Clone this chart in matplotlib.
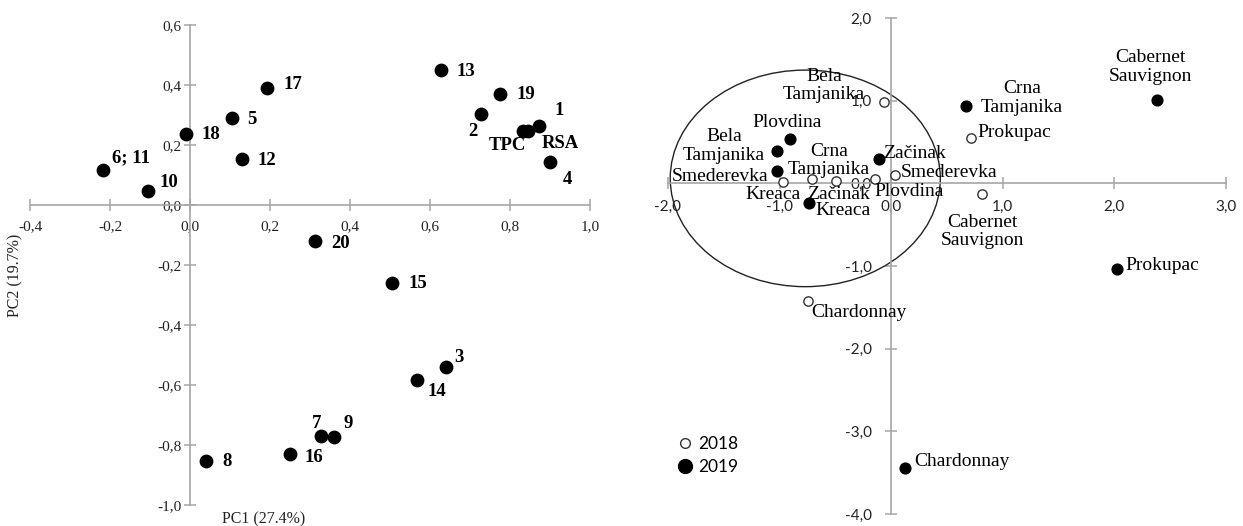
import matplotlib
matplotlib.use("Agg")
import matplotlib.pyplot as plt
from matplotlib.lines import Line2D
from matplotlib.patches import Ellipse

# ---------------- data: left panel (loadings) ----------------
left_labels = ["13", "19", "2", "1", "TPC", "RSA", "4", "17", "5", "18", "12",
               "6; 11", "10", "20", "15", "3", "14", "7", "9", "16", "8"]
left_pc1 = [0.627, 0.775, 0.727, 0.872, 0.832, 0.845, 0.900, 0.193, 0.104, -0.010, 0.129,
            -0.218, -0.104, 0.313, 0.506, 0.641, 0.567, 0.328, 0.361, 0.251, 0.041]
left_pc2 = [0.449, 0.371, 0.302, 0.264, 0.246, 0.246, 0.142, 0.389, 0.290, 0.237, 0.154,
            0.116, 0.047, -0.120, -0.259, -0.539, -0.583, -0.770, -0.772, -0.831, -0.853]
left_xticks = [-0.4, -0.2, 0.0, 0.2, 0.4, 0.6, 0.8, 1.0]
left_yticks = [-1.0, -0.8, -0.6, -0.4, -0.2, 0.0, 0.2, 0.4, 0.6]

# ---------------- data: right panel (scores) ----------------
names_2019 = ["Cabernet\nSauvignon", "Crna\nTamjanika", "Plovdina", "Bela\nTamjanika",
              "Smederevka", "Začinak", "Kreaca", "Prokupac", "Chardonnay"]
x_2019 = [2.38, 0.67, -0.906, -1.023, -1.023, -0.107, -0.738, 2.02, 0.128]
y_2019 = [1.008, 0.935, 0.536, 0.391, 0.149, 0.294, -0.242, -1.04, -3.44]

names_2018 = ["Bela\nTamjanika", "Prokupac", "Smederevka", "Cabernet\nSauvignon", "Kreaca",
              "Crna\nTamjanika", "Začinak", "Plovdina", "Chardonnay"]
x_2018 = [-0.064, 0.715, 0.037, 0.81, -0.973, -0.711, -0.493, -0.141, -0.745]
y_2018 = [0.988, 0.544, 0.10, -0.133, 0.02, 0.048, 0.032, 0.048, -1.42]
right_xticks = [-2.0, -1.0, 0.0, 1.0, 2.0, 3.0]
right_yticks = [-4.0, -3.0, -2.0, -1.0, 0.0, 1.0, 2.0]
legend_labels = ["2018", "2019"]

# ---------------- label placement (pixels: dx, dy, ha) ----------------
left_offsets = {
    "13": (16, -1, "left"), "19": (16, -1, "left"), "2": (-8, -17, "center"),
    "1": (20, 15, "center"), "TPC": (-15, -14, "center"), "RSA": (32, -12, "center"),
    "4": (17, -17, "center"), "17": (16, 4, "left"), "5": (16, -1, "left"),
    "18": (15, -1, "left"), "12": (16, -2, "left"), "6; 11": (9, 12, "left"),
    "10": (11, 8, "left"), "20": (16, -2, "left"), "15": (16, -1, "left"),
    "3": (13, 9, "center"), "14": (20, -12, "center"), "7": (-5, 13, "center"),
    "9": (14, 13, "center"), "16": (14, -3, "left"), "8": (16, -1, "left"),
}
off_2019 = [(-6, 33, "center"), (56, 8, "center"), (-3, 17, "center"), (-53, 5, "center"),
            (-57, -5, "center"), (4, 6, "left"), (7, -7, "left"), (9, 4, "left"), (9, 6, "left")]
off_2018 = [(-60, 16, "center"), (6, 6, "left"), (5, 3, "left"), (1, -37, "center"),
            (-10, -13, "center"), (17, 19, "center"), (2, -14, "center"), (-1, -12, "left"),
            (3, -12, "left")]

ellipse_center = (-0.77, 0.06)
ellipse_size = (2.42, 2.62)

W, H = 1243, 526
fig = plt.figure(figsize=(W / 100, H / 100), dpi=100)
fig.patch.set_facecolor("white")

SERIF = ["Liberation Serif", "DejaVu Serif"]
SANS = ["Lato", "DejaVu Sans"]
AXC = "#a6a6a6"


def fmt(v):
    return f"{v:.1f}".replace(".", ",")


def style_axes(ax, xticks, yticks, font, size, xpad, ypad):
    for s in ["top", "right"]:
        ax.spines[s].set_visible(False)
    for s in ["left", "bottom"]:
        ax.spines[s].set_position(("data", 0))
        ax.spines[s].set_color(AXC)
        ax.spines[s].set_linewidth(1.2)
    ax.set_xticks(xticks)
    ax.set_yticks(yticks)
    ax.set_xticklabels([fmt(v) for v in xticks], family=font, fontsize=size, color="#222222")
    ax.set_yticklabels([fmt(v) for v in yticks], family=font, fontsize=size, color="#222222")
    ax.tick_params(direction="inout", length=8, width=1.1, color=AXC)
    ax.tick_params(axis="x", pad=xpad)
    ax.tick_params(axis="y", pad=ypad)
    ax.set_facecolor("none")


# ---------------- left panel ----------------
ax1 = fig.add_axes([30 / W, 1 - 505 / H, (590 - 30) / W, (505 - 25) / H])
ax1.set_xlim(left_xticks[0], left_xticks[-1])
ax1.set_ylim(left_yticks[0], left_yticks[-1])
style_axes(ax1, left_xticks, left_yticks, SERIF, 11, 7, 2)
ax1.scatter(left_pc1, left_pc2, s=80, color="black", zorder=3, clip_on=False)
for lab, x, y in zip(left_labels, left_pc1, left_pc2):
    dx, dy, ha = left_offsets[lab]
    ax1.annotate(lab, (x, y), xytext=(dx, dy), textcoords="offset pixels",
                 ha=ha, va="center", family=SERIF, fontsize=13.5, fontweight="bold")
fig.text(264 / W, 1 - 519 / H, "PC1 (27.4%)", ha="center", va="center",
         family=SERIF, fontsize=11.5, color="#222222")
fig.text(15 / W, 1 - 275 / H, "PC2 (19.7%)", ha="center", va="center", rotation=90,
         family=SERIF, fontsize=11.5, color="#222222")

# ---------------- right panel ----------------
ax2 = fig.add_axes([668 / W, 1 - 514 / H, (1226 - 668) / W, (514 - 18) / H])
ax2.set_xlim(right_xticks[0], right_xticks[-1])
ax2.set_ylim(right_yticks[0], right_yticks[-1])
style_axes(ax2, right_xticks, right_yticks, SANS, 11, 8, 10)
ax2.add_patch(Ellipse(ellipse_center, ellipse_size[0], ellipse_size[1], fill=False,
                      edgecolor="#222222", linewidth=1.0, zorder=2))
ax2.scatter(x_2018, y_2018, s=45, facecolor="white", edgecolor="#333333", linewidth=1.0,
            zorder=3, clip_on=False)
ax2.scatter(x_2019, y_2019, s=60, color="black", zorder=3, clip_on=False)
for names, xs, ys, offs in [(names_2019, x_2019, y_2019, off_2019),
                            (names_2018, x_2018, y_2018, off_2018)]:
    for lab, x, y, (dx, dy, ha) in zip(names, xs, ys, offs):
        ax2.annotate(lab, (x, y), xytext=(dx, dy), textcoords="offset pixels",
                     ha=ha, va="center", multialignment="center", linespacing=1.1,
                     family=SERIF, fontsize=14, zorder=4)

handles = [Line2D([], [], linestyle="none", marker="o", markersize=7,
                  markerfacecolor="white", markeredgecolor="#333333", markeredgewidth=1.0),
           Line2D([], [], linestyle="none", marker="o", markersize=10,
                  markerfacecolor="black", markeredgecolor="black")]
leg = fig.legend(handles, legend_labels, loc="upper left",
                 bbox_to_anchor=(676 / W, 1 - 436 / H), frameon=False,
                 prop={"family": SANS, "size": 12.5}, handlelength=1.0,
                 handletextpad=0.3, labelspacing=0.4, borderpad=0, borderaxespad=0)

fig.savefig("out.png", dpi=100)
